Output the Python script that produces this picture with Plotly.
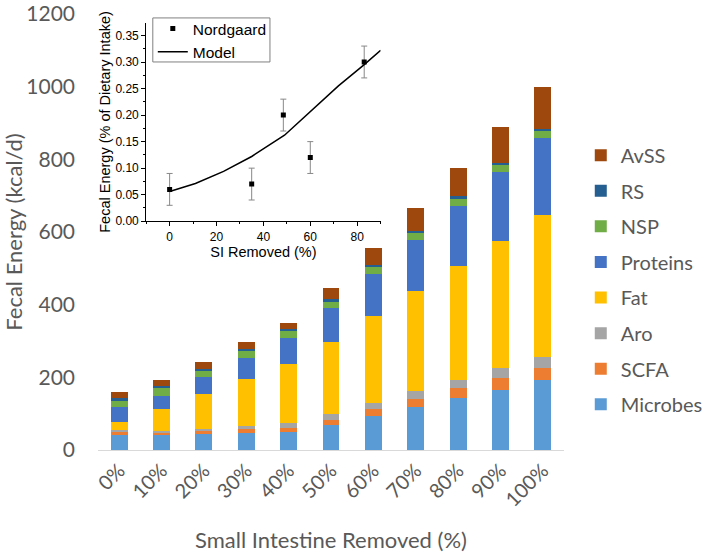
import plotly.graph_objects as go

# ---------------- data ----------------
categories = ["0%", "10%", "20%", "30%", "40%", "50%", "60%", "70%", "80%", "90%", "100%"]
microbes = [41, 41, 44, 46, 50, 68, 94, 117, 143, 166, 192]
scfa = [9, 8, 8, 11, 11, 14, 18, 24, 27, 33, 35]
aro = [4, 3, 7, 9, 13, 16, 17, 21, 24, 26, 29]
fat = [24, 60, 94, 129, 162, 199, 239, 275, 312, 351, 390]
proteins = [39, 38, 49, 59, 72, 93, 116, 142, 166, 190, 213]
nsp = [18, 20, 16, 19, 19, 18, 19, 18, 18, 19, 19]
rs = [8, 6, 6, 6, 7, 7, 6, 6, 8, 6, 6]
avss = [16, 17, 19, 17, 16, 30, 46, 63, 79, 98, 116]

series_names = ["Microbes", "SCFA", "Aro", "Fat", "Proteins", "NSP", "RS", "AvSS"]
series_values = [microbes, scfa, aro, fat, proteins, nsp, rs, avss]
series_colors = ["#5B9BD5", "#ED7D31", "#A5A5A5", "#FFC000", "#4472C4", "#70AD47", "#255E91", "#9E480E"]

# inset data
nord_x = [0, 35, 48.5, 60, 83]
nord_y = [0.06, 0.07, 0.20, 0.12, 0.30]
nord_err = [0.03, 0.03, 0.03, 0.03, 0.03]
model_x = [0, 11, 23, 35, 49, 60, 72, 83, 90]
model_y = [0.056, 0.071, 0.094, 0.122, 0.162, 0.206, 0.255, 0.295, 0.322]

MAIN_FONT = "Lato"
INSET_FONT = "Liberation Sans"
GREY = "#595959"

fig = go.Figure()

n = len(series_names)
for i, (name, vals, col) in enumerate(zip(series_names, series_values, series_colors)):
    fig.add_trace(go.Bar(
        x=categories, y=vals, name=name, marker_color=col,
        marker_line_width=0, legendgroup=name, legend="legend",
        legendrank=n - i,
    ))

fig.add_trace(go.Scatter(
    x=nord_x, y=nord_y, mode="markers", name="Nordgaard",
    marker=dict(symbol="square", size=5, color="black"),
    error_y=dict(type="data", array=nord_err, color="#888888", thickness=1, width=3),
    xaxis="x2", yaxis="y2", legend="legend2",
))
fig.add_trace(go.Scatter(
    x=model_x, y=model_y, mode="lines", name="Model",
    line=dict(color="black", width=1.5),
    xaxis="x2", yaxis="y2", legend="legend2",
))

# inset legend frame
fig.add_shape(
    type="rect", xref="paper", yref="paper",
    x0=0.1176, x1=0.369, y0=0.890, y1=0.991,
    line=dict(color="#808080", width=1), fillcolor="white", layer="above",
)

fig.update_layout(
    width=720, height=554,
    margin=dict(l=98, r=129, t=13, b=104),
    paper_bgcolor="white", plot_bgcolor="white",
    barmode="stack", bargap=0.6,
    font=dict(family=MAIN_FONT, color=GREY),
    xaxis=dict(
        type="category", showline=True, linecolor="#D9D9D9", linewidth=1,
        showgrid=False, ticks="", tickangle=-45,
        tickfont=dict(size=20, color=GREY, family=MAIN_FONT),
        title=dict(text="Small Intestine Removed (%)", font=dict(size=22, color=GREY), standoff=22),
        automargin=False,
    ),
    yaxis=dict(
        range=[0, 1200], dtick=200, showgrid=False, zeroline=False, showline=False,
        ticks="", tickfont=dict(size=21, color=GREY, family=MAIN_FONT),
        ticklabelstandoff=22, ticklabeloverflow="allow",
        title=dict(text="Fecal Energy (kcal/d)", font=dict(size=22, color=GREY), standoff=4),
        automargin=False,
    ),
    xaxis2=dict(
        domain=[0.1034, 0.6065], anchor="y2", range=[-10, 90],
        showline=True, linecolor="black", linewidth=1, showgrid=False, zeroline=False,
        ticks="outside", ticklen=4, tickcolor="black", dtick=20, tick0=0,
        minor=dict(ticks="outside", ticklen=2, dtick=10, tickcolor="black"),
        tickfont=dict(size=12, color="black", family=INSET_FONT),
        title=dict(text="SI Removed (%)", font=dict(size=14.5, color="black", family=INSET_FONT), standoff=4),
    ),
    yaxis2=dict(
        domain=[0.5247, 0.980], anchor="x2", range=[0, 0.374],
        showline=True, linecolor="black", linewidth=1, showgrid=False, zeroline=False,
        ticks="outside", ticklen=4, tickcolor="black", dtick=0.05, tick0=0, tickformat=".2f",
        minor=dict(ticks="outside", ticklen=2, dtick=0.025, tickcolor="black"),
        tickfont=dict(size=12, color="black", family=INSET_FONT),
        title=dict(text="Fecal Energy (% of Dietary Intake)", font=dict(size=14.5, color="black", family=INSET_FONT), standoff=1),
    ),
    legend=dict(
        x=1.036, xanchor="left", y=0.721, yanchor="top",
        traceorder="grouped", tracegroupgap=6.6,
        font=dict(size=20, color=GREY, family=MAIN_FONT),
        bgcolor="rgba(0,0,0,0)",
    ),
    legend2=dict(
        x=0.1176, xanchor="left", y=1.0046, yanchor="top",
        font=dict(size=15.5, color="black", family=INSET_FONT),
        bgcolor="rgba(0,0,0,0)", borderwidth=0,
        tracegroupgap=0, itemwidth=30,
    ),
    showlegend=True,
)

fig.write_html("out.html", post_script="document.body.style.margin='0';",
               config={"displayModeBar": False})
